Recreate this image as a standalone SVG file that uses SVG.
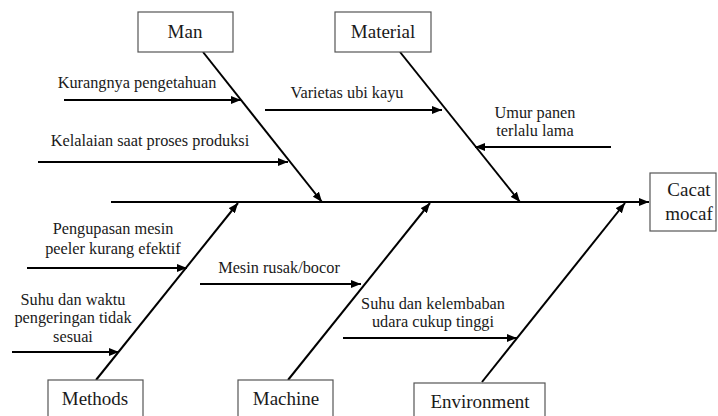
<svg xmlns="http://www.w3.org/2000/svg" width="718" height="416" viewBox="0 0 718 416">
<defs>
<marker id="ah" viewBox="0 0 10 8" refX="10" refY="4" markerWidth="10" markerHeight="8" markerUnits="userSpaceOnUse" orient="auto">
<path d="M0,0 L10,4 L0,8 z" fill="#000"/>
</marker>
<style>
.box{fill:#fff;stroke:#555;stroke-width:1.2}
.lbl{font-family:"Liberation Serif","Times New Roman",serif;font-size:19px;fill:#1a1a1a;text-anchor:middle}
.t{font-family:"Liberation Serif","Times New Roman",serif;font-size:16.3px;fill:#1a1a1a;text-anchor:middle}
.ln{stroke:#000;stroke-width:2;fill:none;marker-end:url(#ah)}
</style>
</defs>
<rect width="718" height="416" fill="#fff"/>
<g id="connectors">
<line class="ln" x1="111" y1="202" x2="649" y2="202"/>
<line class="ln" x1="203" y1="52" x2="322" y2="202"/>
<line class="ln" x1="400" y1="52" x2="520" y2="202"/>
<line class="ln" x1="96" y1="380" x2="238" y2="203"/>
<line class="ln" x1="288" y1="380" x2="430" y2="203"/>
<line class="ln" x1="482" y1="382" x2="625" y2="203"/>
<line class="ln" x1="64" y1="100" x2="241" y2="100"/>
<line class="ln" x1="38" y1="162" x2="288" y2="162"/>
<line class="ln" x1="265" y1="110" x2="442" y2="110"/>
<line class="ln" x1="611" y1="147" x2="475" y2="147"/>
<line class="ln" x1="27" y1="268" x2="187" y2="268"/>
<line class="ln" x1="12" y1="352" x2="119" y2="352"/>
<line class="ln" x1="200" y1="284" x2="361" y2="284"/>
<line class="ln" x1="343" y1="338" x2="517" y2="338"/>
</g>
<g id="man"><rect class="box" x="138" y="12" width="95" height="40"/><text class="lbl" x="185" y="38">Man</text></g>
<g id="material"><rect class="box" x="335" y="12" width="96" height="40"/><text class="lbl" x="383" y="38">Material</text></g>
<g id="methods"><rect class="box" x="48" y="380" width="95" height="40"/><text class="lbl" x="95" y="405">Methods</text></g>
<g id="machine"><rect class="box" x="238" y="380" width="95" height="40"/><text class="lbl" x="286" y="405">Machine</text></g>
<g id="environment"><rect class="box" x="414" y="383" width="131" height="40"/><text class="lbl" x="480" y="408">Environment</text></g>
<g id="cacat-mocaf"><rect class="box" x="650" y="173" width="66" height="58"/><text class="lbl" x="689" y="196">Cacat</text><text class="lbl" x="689" y="220">mocaf</text></g>
<g id="cause-kurangnya"><text class="t" x="137" y="88">Kurangnya pengetahuan</text></g>
<g id="cause-kelalaian"><text class="t" x="150" y="146">Kelalaian saat proses produksi</text></g>
<g id="cause-varietas"><text class="t" x="347" y="98">Varietas ubi kayu</text></g>
<g id="cause-umur"><text class="t" x="535" y="118">Umur panen</text><text class="t" x="535" y="136">terlalu lama</text></g>
<g id="cause-pengupasan"><text class="t" x="113" y="234">Pengupasan mesin</text><text class="t" x="113" y="254">peeler kurang efektif</text></g>
<g id="cause-suhu-waktu"><text class="t" x="73" y="305">Suhu dan waktu</text><text class="t" x="73" y="323">pengeringan tidak</text><text class="t" x="73" y="342">sesuai</text></g>
<g id="cause-mesin"><text class="t" x="279" y="273">Mesin rusak/bocor</text></g>
<g id="cause-suhu-kelembaban"><text class="t" x="433" y="309">Suhu dan kelembaban</text><text class="t" x="433" y="327">udara cukup tinggi</text></g>
</svg>
